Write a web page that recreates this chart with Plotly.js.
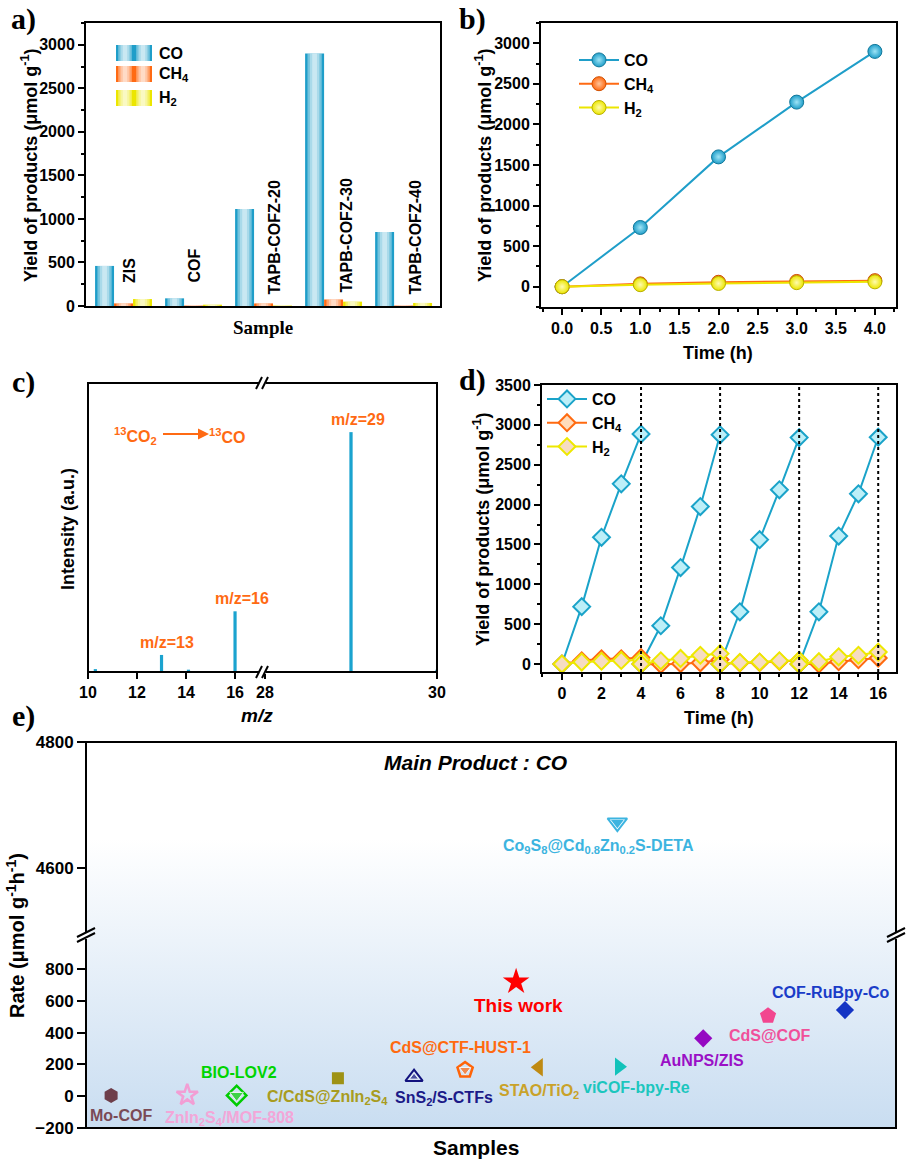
<!DOCTYPE html>
<html>
<head>
<meta charset="utf-8">
<script src="https://cdn.plot.ly/plotly-3.0.1.min.js"></script>
<style>
  html, body { margin: 0; padding: 0; background: #fff; }
  #wrap { position: relative; width: 908px; height: 1162px; }
  #chart { position: absolute; left: 0; top: 0; width: 908px; height: 1162px; }
  /* soft backdrop of panel e */
  #shade {
    position: absolute; left: 86px; top: 742px; width: 810px; height: 386px;
    background: linear-gradient(to bottom, #ffffff 0%, #ffffff 25%, #c9ddf1 100%);
  }
</style>
</head>
<body>
<div id="wrap">
  <div id="shade"></div>
  <div id="chart"></div>
</div>
<script>
// ---- a) product yields of each sample
const samplesA = ["ZIS", "COF", "TAPB-COFZ-20", "TAPB-COFZ-30", "TAPB-COFZ-40"];
const coA = [460, 88, 1115, 2900, 850];
const ch4A = [30, 5, 30, 75, 5];
const h2A = [80, 15, 5, 50, 35];

// ---- b) yield vs time for TAPB-COFZ-30
const timeB = [0, 1, 2, 3, 4];
const coB = [0, 730, 1600, 2275, 2900];
const ch4B = [0, 35, 55, 65, 75];
const h2B = [0, 25, 40, 50, 60];

// ---- c) 13CO2 isotope mass spectrum
const mzLow = [10.3, 13, 14.1, 16];
const intLow = [1, 5.9, 0.8, 21];
const mzHigh = [29, 30];
const intHigh = [83, 0.8];

// ---- d) four recycling runs (null splits the runs)
const timeD = [0, 1, 2, 3, 4, null, 4, 5, 6, 7, 8, null, 8, 9, 10, 11, 12, null, 12, 13, 14, 15, 16];
const coD = [0, 720, 1590, 2260, 2885, null, 0, 480, 1210, 1975, 2875, null, 0, 655, 1560, 2185, 2840, null, 0, 655, 1605, 2135, 2845];
const ch4D = [0, 40, 65, 65, 80, null, 0, -5, 5, 15, 55, null, 0, 15, 20, 35, 40, null, 0, 0, 30, 55, 75];
const h2D = [0, 25, 35, 45, 50, null, 0, 40, 70, 110, 130, null, 0, 20, 25, 40, 45, null, 0, 30, 90, 110, 150];
const runEnds = [4, 8, 12, 16];

// ---- e) comparison of CO production rates
const samplesE = ["Mo-COF", "ZnIn<sub>2</sub>S<sub>4</sub>/MOF-808", "BIO-LOV2", "C/CdS@ZnIn<sub>2</sub>S<sub>4</sub>",
  "SnS<sub>2</sub>/S-CTFs", "CdS@CTF-HUST-1", "STAO/TiO<sub>2</sub>", "viCOF-bpy-Re", "AuNPS/ZIS", "CdS@COF",
  "COF-RuBpy-Co", "This work"];
const slotE = [0.31, 1.25, 1.86, 3.11, 4.05, 4.68, 5.59, 6.58, 7.62, 8.42, 9.37, 5.31];
const rateE = [5, 7, 5, 113, 120, 165, 182, 186, 364, 506, 542, 720];
const samplesHigh = ["Co<sub>9</sub>S<sub>8</sub>@Cd<sub>0.8</sub>Zn<sub>0.2</sub>S-DETA"];
const slotHigh = [6.56];
const rateHigh = [4672];

// ------------------------------------------------------------------
const W = 908, H = 1162;
const fx = (p) => p / W;
const fy = (p) => 1 - p / H;
const dom = (a, b) => [fx(a), fx(b)];
const domY = (top, bottom) => [fy(bottom), fy(top)];

const SANS = "Liberation Sans, Arial, sans-serif";
const SERIF = "Liberation Serif, Times New Roman, serif";
const tickFont = { family: SANS, size: 16, color: "#000", weight: "bold" };
const CO_BLUE = "#1f9ec9", CH4_ORANGE = "#ff6a13", H2_YELLOW = "#ece600";

const traces = [];
const shapes = [];
const annotations = [];

function paperText(text, x, y, font, extra) {
    annotations.push(Object.assign({
        text: text, x: fx(x), y: fy(y), xref: "paper", yref: "paper",
        showarrow: false, xanchor: "center", yanchor: "middle", font: font,
    }, extra || {}));
}

// ---------------- panel a: bars with a cylinder-like sheen
const groupX = samplesA.map((_, i) => i);
const barW = 0.271;
const seriesA = [
    { name: "CO", y: coA, color: CO_BLUE, off: -barW },
    { name: "CH<sub>4</sub>", y: ch4A, color: CH4_ORANGE, off: 0 },
    { name: "H<sub>2</sub>", y: h2A, color: H2_YELLOW, off: barW },
];
const sheen = [0.75, 0.5, 0.25];
seriesA.forEach((s) => {
    traces.push({
        type: "bar", x: groupX, y: s.y, xaxis: "x", yaxis: "y",
        offset: s.off - barW / 2, width: barW,
        marker: { color: s.color, line: { width: 0 } },
        showlegend: false, hoverinfo: "skip",
    });
    sheen.forEach((f) => {
        traces.push({
            type: "bar", x: groupX, y: s.y, xaxis: "x", yaxis: "y",
            offset: s.off - (barW * f) / 2, width: barW * f,
            marker: { color: "rgba(255,255,255,0.38)", line: { width: 0 } },
            showlegend: false, hoverinfo: "skip",
        });
    });
});

// legend swatches for panel a
const swatchRows = [53, 74, 98];
seriesA.forEach((s, k) => {
    const yc = swatchRows[k];
    [116, 134].forEach((x0) => {
        shapes.push({ type: "rect", xref: "paper", yref: "paper", x0: fx(x0), x1: fx(x0 + 18),
            y0: fy(yc + 8), y1: fy(yc - 8), fillcolor: s.color, line: { width: 0 } });
        sheen.forEach((f) => {
            const w = 18 * f;
            shapes.push({ type: "rect", xref: "paper", yref: "paper", x0: fx(x0 + 9 - w / 2), x1: fx(x0 + 9 + w / 2),
                y0: fy(yc + 8), y1: fy(yc - 8), fillcolor: "rgba(255,255,255,0.38)", line: { width: 0 } });
        });
    });
    paperText(s.name, 157, yc + 1, { family: SANS, size: 16, color: "#000", weight: "bold" }, { xanchor: "left" });
});

// rotated sample names
const nameShiftX = [6, 0, 10, 12, 11];
const nameLift = [21, 21, 9, 11, 9];
samplesA.forEach((name, i) => {
    annotations.push({
        text: name, x: i, y: 0, xref: "x", yref: "y", showarrow: false, textangle: -90,
        xanchor: "center", yanchor: "bottom", xshift: nameShiftX[i], yshift: nameLift[i],
        font: { family: SANS, size: 16, color: "#000", weight: "bold" },
    });
});

// ---------------- panel b
const seriesB = [
    { name: "CO", y: coB, color: CO_BLUE, light: "#9fe4f6", edge: "#13789a" },
    { name: "CH<sub>4</sub>", y: ch4B, color: CH4_ORANGE, light: "#ffc49a", edge: "#d04f00" },
    { name: "H<sub>2</sub>", y: h2B, color: H2_YELLOW, light: "#fffbb0", edge: "#b8b000" },
];
seriesB.forEach((s) => {
    traces.push({
        type: "scatter", mode: "lines+markers", x: timeB, y: s.y, xaxis: "x2", yaxis: "y2",
        name: s.name, legend: "legend",
        line: { color: s.color, width: 2 },
        marker: { symbol: "circle", size: 14, color: s.color, gradient: { type: "radial", color: s.light },
            line: { color: s.edge, width: 1 } },
        hoverinfo: "skip",
    });
});

// ---------------- panel c
const MS_BLUE = "#1ba3cf";
traces.push({ type: "bar", x: mzLow, y: intLow, xaxis: "x3", yaxis: "y3", width: 0.13,
    marker: { color: MS_BLUE, line: { width: 0 } }, showlegend: false, hoverinfo: "skip" });
traces.push({ type: "bar", x: mzHigh, y: intHigh, xaxis: "x4", yaxis: "y3", width: 0.038,
    marker: { color: MS_BLUE, line: { width: 0 } }, showlegend: false, hoverinfo: "skip" });

const msFont = { family: SANS, size: 16, color: CH4_ORANGE, weight: "bold" };
[[mzLow[1], intLow[1], "x3", 5], [mzLow[3], intLow[3], "x3", 7], [mzHigh[0], intHigh[0], "x4", 7]].forEach((p) => {
    annotations.push({ text: "m/z=" + p[0], x: p[0], y: p[1], xref: p[2], yref: "y3", showarrow: false,
        xanchor: "center", yanchor: "bottom", xshift: p[3], yshift: 2, font: msFont });
});
paperText("<sup>13</sup>CO<sub>2</sub>", 135, 436, msFont);
paperText("<sup>13</sup>CO", 227, 436, msFont);
annotations.push({ text: " ", x: fx(209), y: fy(434), xref: "paper", yref: "paper", ax: -49, ay: 0,
    showarrow: true, arrowhead: 2, arrowsize: 1.1, arrowwidth: 2, arrowcolor: CH4_ORANGE, standoff: 0 });

// frame + axis breaks
shapes.push({ type: "rect", xref: "paper", yref: "paper", x0: fx(88), x1: fx(437), y0: fy(672), y1: fy(383),
    line: { width: 2, color: "#000" }, layer: "above" });
[383, 672].forEach((yc) => {
    shapes.push({ type: "rect", xref: "paper", yref: "paper", x0: fx(259), x1: fx(266), y0: fy(yc + 2), y1: fy(yc - 2),
        fillcolor: "#fff", line: { width: 0 }, layer: "above" });
    [0, 6].forEach((d) => {
        shapes.push({ type: "line", xref: "paper", yref: "paper", x0: fx(256 + d), y0: fy(yc + 6), x1: fx(262 + d), y1: fy(yc - 6),
            line: { width: 2, color: "#000" }, layer: "above" });
    });
});

// ---------------- panel d
const seriesD = [
    { name: "CO", y: coD, color: "#1aa3c9", fill: "#bdeff8" },
    { name: "CH<sub>4</sub>", y: ch4D, color: "#ff6a10", fill: "#ffdcbc" },
    { name: "H<sub>2</sub>", y: h2D, color: "#eee800", fill: "#f6dcc2" },
];
seriesD.forEach((s) => {
    traces.push({
        type: "scatter", mode: "lines+markers", x: timeD, y: s.y, xaxis: "x5", yaxis: "y4",
        name: s.name, legend: "legend2", connectgaps: false,
        line: { color: s.color, width: 2 },
        marker: { symbol: "diamond", size: 13, color: s.fill, line: { color: s.color, width: 2 } },
        hoverinfo: "skip",
    });
});
runEnds.forEach((t) => {
    shapes.push({ type: "line", xref: "x5", yref: "y4 domain", x0: t, x1: t, y0: 0, y1: 1,
        line: { color: "#000", width: 2, dash: "dot" } });
});

// ---------------- panel e
const styleE = [
    { symbol: "hexagon", color: "#6e3e4a", size: 15, lw: 0, dx: 10, dy: 20 },
    { symbol: "star-open", color: "#f29ed4", size: 16, lw: 2.5, dx: 42, dy: 23 },
    { symbol: "diamond-open", color: "#00cc00", size: 15, lw: 2.5, dx: 2, dy: -23 },
    { symbol: "square", color: "#9e9214", size: 12, lw: 0, dx: -10, dy: 19 },
    { symbol: "triangle-up-open", color: "#12127e", size: 15, lw: 2, dx: 30, dy: 21 },
    { symbol: "pentagon-open", color: "#ff6408", size: 16, lw: 2.5, dx: -5, dy: -22 },
    { symbol: "triangle-left", color: "#bf8a12", size: 16, lw: 0, dx: 0, dy: 24 },
    { symbol: "triangle-right", color: "#12c2ba", size: 16, lw: 0, dx: 18, dy: 21 },
    { symbol: "diamond", color: "#9508c2", size: 14, lw: 0, dx: -1, dy: 22 },
    { symbol: "pentagon", color: "#f2468f", size: 17, lw: 0, dx: 2, dy: 20 },
    { symbol: "diamond", color: "#1434c4", size: 14, lw: 0, dx: -14, dy: -18 },
    { symbol: "star", color: "#ff0000", size: 20, lw: 0, dx: 2, dy: 24 },
];
const labelColorE = ["#7a4a56", "#f3a6d8", "#00d400", "#a89c20", "#1b1a88", "#ff6a10", "#c9a22a",
    "#1cc6be", "#9a10c6", "#f0509a", "#1a3cc8", "#ff0000"];
traces.push({
    type: "scatter", mode: "markers", x: slotE, y: rateE, xaxis: "x6", yaxis: "y5",
    marker: {
        symbol: styleE.map((s) => s.symbol), size: styleE.map((s) => s.size),
        color: styleE.map((s) => s.color), opacity: 1,
        line: { width: styleE.map((s) => s.lw), color: styleE.map((s) => s.color) },
    },
    showlegend: false, hoverinfo: "skip", cliponaxis: false,
});
// filled lower parts of the half-open markers
const halfIdx = [2, 4, 5];
const halfSym = ["triangle-down", "triangle-up", "triangle-down"];
traces.push({
    type: "scatter", mode: "markers", x: halfIdx.map((i) => slotE[i]), y: halfIdx.map((i) => rateE[i]),
    xaxis: "x6", yaxis: "y5",
    marker: { symbol: halfSym, size: [12, 8, 10], color: halfIdx.map((i) => styleE[i].color) },
    showlegend: false, hoverinfo: "skip", cliponaxis: false,
});
traces.push({
    type: "scatter", mode: "markers", x: slotHigh, y: rateHigh, xaxis: "x6", yaxis: "y6",
    marker: { symbol: "triangle-down-open", size: 17, color: "#3cb4e0", line: { width: 2, color: "#3cb4e0" } },
    showlegend: false, hoverinfo: "skip", cliponaxis: false,
});
traces.push({
    type: "scatter", mode: "markers", x: slotHigh, y: rateHigh, xaxis: "x6", yaxis: "y6",
    marker: { symbol: "triangle-down", size: 11, color: "#3cb4e0" },
    showlegend: false, hoverinfo: "skip", cliponaxis: false,
});

samplesE.forEach((name, i) => {
    const big = name === "This work";
    annotations.push({
        text: name, x: slotE[i], y: rateE[i], xref: "x6", yref: "y5", showarrow: false,
        xanchor: "center", yanchor: "middle", xshift: styleE[i].dx, yshift: -styleE[i].dy,
        font: { family: SANS, size: big ? 19 : 16, color: labelColorE[i], weight: "bold" },
    });
});
annotations.push({
    text: samplesHigh[0], x: slotHigh[0], y: rateHigh[0], xref: "x6", yref: "y6", showarrow: false,
    xanchor: "center", yanchor: "middle", xshift: -19, yshift: -24,
    font: { family: SANS, size: 16, color: "#3cb4e0", weight: "bold" },
});

shapes.push({ type: "rect", xref: "paper", yref: "paper", x0: fx(86), x1: fx(896), y0: fy(1128), y1: fy(742),
    line: { width: 2, color: "#000" }, layer: "above" });
[86, 896].forEach((xc) => {
    shapes.push({ type: "rect", xref: "paper", yref: "paper", x0: fx(xc - 3), x1: fx(xc + 3), y0: fy(939), y1: fy(933),
        fillcolor: "#fff", line: { width: 0 }, layer: "above" });
    [0, 5].forEach((d) => {
        shapes.push({ type: "line", xref: "paper", yref: "paper", x0: fx(xc - 9), y0: fy(937 + d), x1: fx(xc + 9), y1: fy(928 + d),
            line: { width: 2, color: "#000" }, layer: "above" });
    });
});

// ---------------- titles and panel letters
const letterFont = { family: SERIF, size: 30, color: "#000", weight: "bold" };
paperText("a)", 23, 19, letterFont);
paperText("b)", 472, 19, letterFont);
paperText("c)", 23, 382, letterFont);
paperText("d)", 472, 380, letterFont);
paperText("e)", 23, 716, letterFont);

const titleFont = { family: SANS, size: 18, color: "#000", weight: "bold" };
const yTitle = "Yield of products (μmol g<sup>-1</sup>)";
paperText(yTitle, 29, 165, titleFont, { textangle: -90 });
paperText(yTitle, 483, 165, titleFont, { textangle: -90 });
paperText("Intensity (a.u.)", 68, 529, titleFont, { textangle: -90 });
paperText(yTitle, 481, 529, titleFont, { textangle: -90 });
paperText("Rate (μmol g<sup>-1</sup>h<sup>-1</sup>)", 15, 936, { family: SANS, size: 20, color: "#000", weight: "bold" }, { textangle: -90 });

paperText("Sample", 263, 327, { family: SERIF, size: 19, color: "#000", weight: "bold" });
paperText("Time (h)", 718, 353, titleFont);
paperText("m/z", 257, 715, { family: SANS, size: 19, color: "#000", weight: "bold", style: "italic" });
paperText("Time (h)", 719, 718, titleFont);
paperText("Samples", 476, 1147, { family: SANS, size: 21, color: "#000", weight: "bold" });
paperText("Main Product : CO", 475, 763, { family: SANS, size: 21, color: "#000", weight: "bold", style: "italic" });

// ---------------- axes
const baseAxis = {
    showgrid: false, zeroline: false, linecolor: "#000", linewidth: 2,
    tickcolor: "#000", tickwidth: 2, ticklen: 6, tickfont: tickFont, fixedrange: true,
};
const minorTicks = (d) => ({ ticks: "outside", dtick: d, ticklen: 3, tickwidth: 2, tickcolor: "#000" });

const layout = {
    width: W, height: H,
    margin: { l: 0, r: 0, t: 0, b: 0 },
    paper_bgcolor: "rgba(0,0,0,0)", plot_bgcolor: "rgba(0,0,0,0)",
    barmode: "overlay",
    font: { family: SANS, color: "#000" },
    shapes: shapes,
    annotations: annotations,

    xaxis: Object.assign({}, baseAxis, { domain: dom(86, 440), range: [-0.536, 4.52], anchor: "y",
        showline: true, mirror: true, ticks: "", showticklabels: false }),
    yaxis: Object.assign({}, baseAxis, { domain: domY(23, 306), range: [0, 3250], anchor: "x",
        showline: true, mirror: true, ticks: "outside", dtick: 500, minor: minorTicks(250) }),

    xaxis2: Object.assign({}, baseAxis, { domain: dom(541, 896), range: [-0.27, 4.27], anchor: "y2",
        showline: true, mirror: true, ticks: "outside", dtick: 0.5, tickformat: ".1f", minor: minorTicks(0.25) }),
    yaxis2: Object.assign({}, baseAxis, { domain: domY(23, 307), range: [-250, 3250], anchor: "x2",
        showline: true, mirror: true, ticks: "outside", dtick: 500, minor: minorTicks(250) }),

    xaxis3: Object.assign({}, baseAxis, { domain: dom(88, 262), range: [10, 17.1], anchor: "y3",
        showline: false, ticks: "outside", tickvals: [10, 12, 14, 16] }),
    xaxis4: Object.assign({}, baseAxis, { domain: dom(262, 437), range: [27.965, 30], anchor: "y3",
        showline: false, ticks: "outside", tickvals: [28, 30] }),
    yaxis3: Object.assign({}, baseAxis, { domain: domY(383, 672), range: [0, 100], anchor: "x3",
        showline: false, ticks: "", showticklabels: false }),

    xaxis5: Object.assign({}, baseAxis, { domain: dom(542, 896), range: [-1.01, 16.9], anchor: "y4",
        showline: true, mirror: true, ticks: "outside", dtick: 2, minor: minorTicks(1) }),
    yaxis4: Object.assign({}, baseAxis, { domain: domY(385, 672), range: [-100, 3500], anchor: "x5",
        showline: true, mirror: true, ticks: "outside", dtick: 500, minor: minorTicks(250) }),

    xaxis6: Object.assign({}, baseAxis, { domain: dom(86, 896), range: [0, 10], anchor: "y5",
        showline: false, ticks: "", showticklabels: false }),
    yaxis5: Object.assign({}, baseAxis, { domain: domY(935, 1128), range: [-200, 1014], anchor: "x6",
        showline: false, ticks: "outside", ticklen: 8, tickvals: [-200, 0, 200, 400, 600, 800],
        tickfont: Object.assign({}, tickFont, { size: 17 }) }),
    yaxis6: Object.assign({}, baseAxis, { domain: domY(742, 935), range: [4494, 4800], anchor: "x6",
        showline: false, ticks: "outside", ticklen: 8, tickvals: [4600, 4800],
        tickfont: Object.assign({}, tickFont, { size: 17 }) }),

    legend: { x: fx(574), y: fy(43), xanchor: "left", yanchor: "top", bgcolor: "rgba(0,0,0,0)",
        itemwidth: 40, tracegroupgap: 0, font: { family: SANS, size: 16, color: "#000", weight: "bold" } },
    legend2: { x: fx(542), y: fy(382), xanchor: "left", yanchor: "top", bgcolor: "rgba(0,0,0,0)",
        itemwidth: 40, tracegroupgap: 0, font: { family: SANS, size: 16, color: "#000", weight: "bold" } },
};

Plotly.newPlot("chart", traces, layout, { displayModeBar: false, staticPlot: true });
</script>
</body>
</html>
